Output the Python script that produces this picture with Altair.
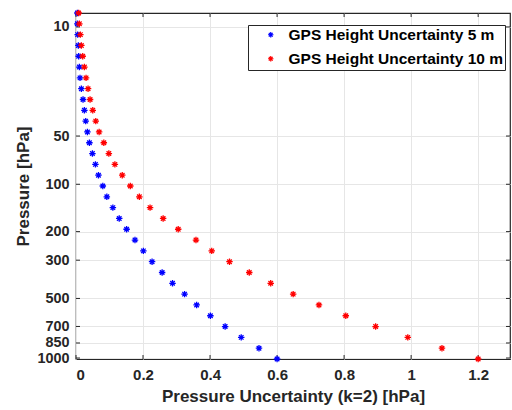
import altair as alt
import pandas as pd

# Altitude levels (km) at which the uncertainty is evaluated
ALTITUDE_KM = [0, 1, 2, 3, 4, 5, 6, 7, 8, 9, 10, 11, 12, 13, 14, 15, 16,
               17, 18, 19, 20, 21, 22, 23, 24, 25, 26, 27, 28, 29, 30, 31, 32]

# Pressure uncertainty (k=2) [hPa], GPS height uncertainty 5 m
UNC_5M = [0.600, 0.546, 0.493, 0.445, 0.401, 0.360, 0.324, 0.288, 0.257, 0.227,
          0.201, 0.176, 0.151, 0.129, 0.110, 0.092, 0.080, 0.067, 0.058, 0.049,
          0.040, 0.034, 0.029, 0.025, 0.021, 0.016, 0.012, 0.010, 0.008, 0.007,
          0.005, 0.004, 0.004]

# Pressure uncertainty (k=2) [hPa], GPS height uncertainty 10 m
UNC_10M = [1.200, 1.092, 0.990, 0.894, 0.805, 0.725, 0.648, 0.581, 0.517, 0.458,
           0.405, 0.358, 0.305, 0.260, 0.221, 0.189, 0.162, 0.138, 0.116, 0.098,
           0.083, 0.069, 0.059, 0.050, 0.042, 0.036, 0.030, 0.025, 0.020, 0.016,
           0.013, 0.010, 0.008]

SERIES = ["GPS Height Uncertainty 5 m", "GPS Height Uncertainty 10 m"]
COLORS = ["#0000ff", "#ff0000"]

# Pressure tick labels and the altitude (km) at which each one sits
TICK_PRESSURE = ["1000", "850", "700", "500", "300", "200", "100", "50", "10"]
TICK_ALT_KM = [0.09, 1.48, 3.01, 5.60, 9.14, 11.78, 16.16, 20.62, 30.71]

X_TICKS = [0, 0.2, 0.4, 0.6, 0.8, 1.0, 1.2]

rows = []
for a, u in zip(ALTITUDE_KM, UNC_5M):
    rows.append({"alt": a, "unc": u, "series": SERIES[0]})
for a, u in zip(ALTITUDE_KM, UNC_10M):
    rows.append({"alt": a, "unc": u, "series": SERIES[1]})
df = pd.DataFrame(rows)

label_expr = "''"
for a, p in reversed(list(zip(TICK_ALT_KM, TICK_PRESSURE))):
    label_expr = f"abs(datum.value - {a}) < 0.001 ? '{p}' : {label_expr}"

ASTERISK = "M-1,0L1,0M0,-1L0,1M-0.7,-0.7L0.7,0.7M-0.7,0.7L0.7,-0.7"
FONT = "Liberation Sans"
W, H = 434, 346

x_scale = alt.Scale(domain=[0, 1.295], nice=False, zero=False)
y_scale = alt.Scale(domain=[0, 32], nice=False, zero=False)

points = alt.Chart(df).mark_point(
    shape=ASTERISK, filled=False, size=42, strokeWidth=1.3, opacity=1
).encode(
    x=alt.X("unc:Q", scale=x_scale,
            title="Pressure Uncertainty (k=2) [hPa]",
            axis=alt.Axis(values=X_TICKS, format="~g", ticks=False,
                          labelPadding=8, titlePadding=6, domain=False,
                          grid=True, gridColor="#e6e6e6", gridWidth=1)),
    y=alt.Y("alt:Q", scale=y_scale, title="Pressure [hPa]",
            axis=alt.Axis(values=TICK_ALT_KM, labelExpr=label_expr, ticks=False,
                          labelFontSize=14.4,
                          labelPadding=7, titlePadding=4, domain=False,
                          grid=True, gridColor="#e6e6e6", gridWidth=1)),
    color=alt.Color("series:N", sort=SERIES,
                    scale=alt.Scale(domain=SERIES, range=COLORS),
                    legend=alt.Legend(title=None, orient="none",
                                      legendX=172, legendY=12,
                                      padding=2, symbolOffset=13,
                                      symbolType=ASTERISK, symbolSize=30,
                                      symbolStrokeWidth=1.2,
                                      labelOffset=10, rowPadding=7,
                                      strokeColor="#262626", fillColor="white",
                                      labelFont=FONT, labelFontSize=15.5,
                                      labelFontWeight="bold",
                                      labelColor="#000000", labelLimit=400)),
)

tick_df_x = pd.DataFrame({"v": X_TICKS})
tick_df_y = pd.DataFrame({"a": TICK_ALT_KM})
tick_color = "#262626"

bottom_ticks = alt.Chart(tick_df_x).mark_rule(color=tick_color, strokeWidth=1).encode(
    x=alt.X("v:Q", scale=x_scale), y=alt.value(H), y2=alt.value(H - 4))
top_ticks = alt.Chart(tick_df_x).mark_rule(color=tick_color, strokeWidth=1).encode(
    x=alt.X("v:Q", scale=x_scale), y=alt.value(0), y2=alt.value(4))
left_ticks = alt.Chart(tick_df_y).mark_rule(color=tick_color, strokeWidth=1).encode(
    y=alt.Y("a:Q", scale=y_scale), x=alt.value(0), x2=alt.value(4))
right_ticks = alt.Chart(tick_df_y).mark_rule(color=tick_color, strokeWidth=1).encode(
    y=alt.Y("a:Q", scale=y_scale), x=alt.value(W), x2=alt.value(W - 4))

chart = alt.layer(
    bottom_ticks, top_ticks, left_ticks, right_ticks, points
).properties(
    width=W, height=H,
    autosize=alt.AutoSizeParams(type="none"),
    padding={"left": 76, "top": 13, "right": 2, "bottom": 51},
    background="white",
).configure_view(
    stroke="#262626", strokeWidth=1.2
).configure_axis(
    labelFont=FONT, labelFontSize=15, labelFontWeight="bold", labelColor="#262626",
    titleFont=FONT, titleFontSize=17, titleFontWeight="bold", titleColor="#262626",
)

chart.save("out.html", embed_options={"renderer": "svg", "actions": False})
